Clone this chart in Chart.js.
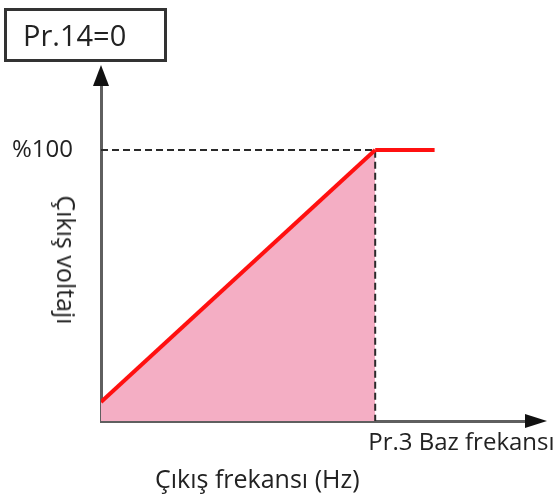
<!DOCTYPE html>
<html>
<head>
<meta charset="utf-8">
<script src="https://cdn.jsdelivr.net/npm/chart.js@4.4.1/dist/chart.umd.min.js"></script>
<style>
  html, body { margin: 0; padding: 0; background: #fff; }
  #wrap { position: relative; width: 560px; height: 499px; font-family: "Open Sans", sans-serif; color: #222; }
  #chart { position: absolute; left: 0; top: 0; }
  .lbl { position: absolute; white-space: nowrap; }
  #modeBox {
    left: 4px; top: 8px; width: 157px; height: 48px;
    border: 3px solid #333; font-size: 29px; line-height: 48px;
    padding-left: 0; text-indent: 16px;
  }
  #yTitle { left: 67px; top: 260px; font-size: 25px; transform: translate(-50%, -50%) rotate(90deg); }
  #xTitle { left: 155px; top: 462px; font-size: 25px; line-height: 32px; }
</style>
</head>
<body>
<div id="wrap">
  <canvas id="chart" width="560" height="499"></canvas>
  <div class="lbl" id="modeBox">Pr.14=0</div>
  <div class="lbl" id="yTitle">Çıkış voltajı</div>
  <div class="lbl" id="xTitle">Çıkış frekansı (Hz)</div>
</div>
<script>
// V/f curve, Pr.14 = 0 (constant torque)
const baseFreq = 60;        // Pr.3 base frequency
const freqMax = 93;         // x axis end (arrow starts here)
const voltMax = 124;        // y axis end (arrow starts here)

const rampFreq = [0, 60];
const rampVolt = [7, 100];
const flatFreq = [60, 73];
const flatVolt = [100, 100];
const guideFreq = [0, 60, 60];
const guideVolt = [100, 100, 0];

const xTicks = [baseFreq];
const xTickLabels = ['Pr.3 Baz frekansı'];
const yTicks = [100];
const yTickLabels = ['%100'];

const toPoints = (xs, ys) => xs.map((x, i) => ({ x: x, y: ys[i] }));

const RED = '#ff1010';
const AXIS = '#5f5f5f';

// draws the arrow heads at the ends of both axes
const axisArrows = {
  id: 'axisArrows',
  afterDraw(chart) {
    const { ctx, chartArea } = chart;
    const x0 = chart.scales.x.getPixelForValue(0);
    const y0 = chart.scales.y.getPixelForValue(0);
    ctx.save();
    ctx.fillStyle = '#111';
    // up arrow
    ctx.beginPath();
    ctx.moveTo(x0, chartArea.top - 20);
    ctx.lineTo(x0 - 8, chartArea.top + 1);
    ctx.lineTo(x0 + 8, chartArea.top + 1);
    ctx.closePath();
    ctx.fill();
    // right arrow
    ctx.beginPath();
    ctx.moveTo(chartArea.right + 21, y0);
    ctx.lineTo(chartArea.right - 1, y0 - 7);
    ctx.lineTo(chartArea.right - 1, y0 + 7);
    ctx.closePath();
    ctx.fill();
    ctx.restore();
  }
};

new Chart(document.getElementById('chart'), {
  type: 'scatter',
  data: {
    datasets: [
      {
        data: toPoints(rampFreq, rampVolt),
        showLine: true,
        borderColor: RED,
        borderWidth: 4,
        pointRadius: 0,
        fill: 'origin',
        backgroundColor: '#f4aec4'
      },
      {
        data: toPoints(flatFreq, flatVolt),
        showLine: true,
        borderColor: RED,
        borderWidth: 4,
        pointRadius: 0
      },
      {
        data: toPoints(guideFreq, guideVolt),
        showLine: true,
        borderColor: '#2a2a2a',
        borderWidth: 2,
        borderDash: [7, 4],
        pointRadius: 0
      }
    ]
  },
  options: {
    responsive: false,
    animation: false,
    events: [],
    layout: {
      autoPadding: false,
      padding: { left: 0, right: 34, top: 85, bottom: 0 }
    },
    plugins: {
      legend: { display: false },
      tooltip: { enabled: false },
      filler: { drawTime: 'beforeDatasetsDraw' }
    },
    scales: {
      x: {
        type: 'linear',
        min: 0,
        max: freqMax,
        grid: { display: false, drawTicks: false },
        border: { display: true, color: AXIS, width: 3 },
        afterBuildTicks: (scale) => { scale.ticks = xTicks.map(v => ({ value: v })); },
        afterFit: (scale) => {
          scale.height = 78;
          // the label may run past the plot area, do not shrink it
          scale.paddingLeft = 0;
          scale.paddingRight = 0;
        },
        ticks: {
          align: 'start',
          labelOffset: -7,
          padding: 8,
          color: '#222',
          font: { family: 'Open Sans', size: 24 },
          callback: (v, i) => xTickLabels[i]
        }
      },
      y: {
        type: 'linear',
        min: 0,
        max: voltMax,
        grid: { display: false, drawTicks: false },
        border: { display: true, color: AXIS, width: 3 },
        afterBuildTicks: (scale) => { scale.ticks = yTicks.map(v => ({ value: v })); },
        afterFit: (scale) => { scale.width = 101; },
        ticks: {
          padding: 28,
          color: '#222',
          font: { family: 'Open Sans', size: 24 },
          callback: (v, i) => yTickLabels[i]
        }
      }
    }
  },
  plugins: [axisArrows]
});
</script>
</body>
</html>
